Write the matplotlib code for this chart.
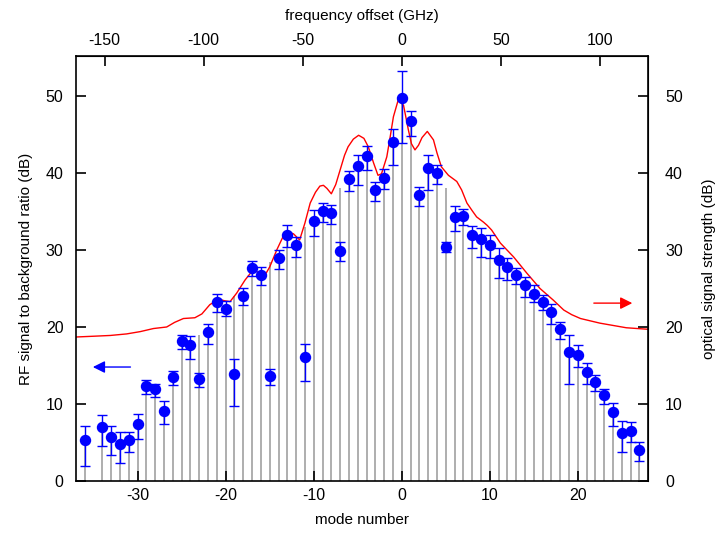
import matplotlib
matplotlib.use('Agg')
import matplotlib.pyplot as plt
import numpy as np

plt.rcParams['font.family'] = ['Liberation Sans', 'DejaVu Sans']
plt.rcParams['font.size'] = 11.5
plt.rcParams['axes.unicode_minus'] = False

# RF signal to background ratio per comb mode (dB), with error bar limits
modes = [-36, -34, -33, -32, -31, -30, -29, -28, -27, -26, -25, -24, -23, -22, -21, -20,
         -19, -18, -17, -16, -15, -14, -13, -12, -11, -10, -9, -8, -7, -6, -5, -4, -3, -2,
         -1, 0, 1, 2, 3, 4, 5, 6, 7, 8, 9, 10, 11, 12, 13, 14, 15, 16, 17, 18, 19, 20, 21,
         22, 23, 24, 25, 26, 27]
rf_ratio = [5.3, 7.0, 5.7, 4.8, 5.3, 7.4, 12.3, 11.9, 9.1, 13.5, 18.2, 17.6, 13.2, 19.3, 23.3, 22.4,
            13.9, 24.0, 27.7, 26.8, 13.6, 29.0, 32.0, 30.6, 16.1, 33.8, 35.0, 34.8, 29.9, 39.2, 40.9, 42.2, 37.8, 39.4,
            44.0, 49.8, 46.8, 37.1, 40.7, 40.0, 30.4, 34.3, 34.4, 31.9, 31.4, 30.7, 28.7, 27.8, 26.7, 25.4, 24.3, 23.2, 21.9, 19.7, 16.8, 16.4, 14.2,
            12.9, 11.2, 8.9, 6.2, 6.5, 4.0]
rf_hi = [7.2, 8.6, 7.2, 6.3, 6.4, 8.7, 13.1, 12.6, 10.4, 14.3, 19.0, 18.8, 14.0, 20.4, 24.3, 23.4,
         15.9, 25.0, 28.6, 27.8, 14.6, 30.0, 33.2, 31.7, 17.8, 35.2, 36.1, 35.8, 31.1, 40.3, 42.4, 43.5, 38.8, 40.5,
         45.7, 53.3, 48.0, 38.2, 42.3, 41.0, 31.0, 35.7, 35.3, 33.1, 32.9, 31.9, 30.3, 28.9, 27.6, 26.5, 25.4, 24.1, 23.0, 20.6, 19.0, 17.6, 15.3,
         13.8, 12.0, 10.1, 7.8, 7.6, 5.1]
rf_lo = [1.9, 4.5, 3.4, 2.3, 3.7, 5.4, 11.3, 10.9, 7.4, 12.5, 17.1, 15.8, 12.2, 17.8, 21.9, 21.4,
         9.7, 22.9, 26.6, 25.5, 12.5, 27.5, 30.4, 29.1, 13.0, 31.8, 33.7, 33.4, 28.6, 37.6, 38.5, 40.4, 36.4, 37.9,
         41.0, 43.9, 44.8, 35.7, 37.8, 38.6, 29.7, 32.5, 33.2, 30.3, 29.1, 29.0, 26.3, 26.1, 25.6, 23.9, 23.2, 22.2, 20.4, 18.5, 12.6, 14.8, 12.6,
         11.7, 10.0, 7.2, 3.7, 5.1, 2.6]

# heights of the grey comb lines
line_height = [5.3, 7.0, 5.7, 4.8, 5.3, 7.4, 12.3, 11.9, 9.1, 13.5, 18.2, 17.6, 19.0, 19.3, 23.3, 22.4,
               24.0, 24.0, 27.7, 26.8, 28.5, 29.0, 32.0, 30.6, 33.0, 33.8, 35.0, 34.8, 38.0, 39.2, 40.9, 42.2, 37.8, 39.4,
               44.0, 49.8, 46.8, 37.1, 40.7, 40.0, 38.0, 34.3, 34.4, 31.9, 31.4, 30.7, 28.7, 27.8, 26.7, 25.4, 24.3, 23.2, 21.9, 19.7, 16.8, 16.4, 14.2,
               12.9, 11.2, 8.9, 6.2, 6.5, 4.0]

# optical spectrum envelope (dB) vs mode number
opt_mode = [-37.0, -35.0, -33.1, -31.25, -29.7, -28.2, -26.7, -25.8, -24.8, -23.5, -22.7, -21.8,
            -20.8, -20.1, -19.5, -18.75, -17.8, -16.9, -16.1, -15.65, -15.0, -14.2, -13.5, -12.9,
            -12.3, -11.6, -11.0, -10.4, -9.8, -9.3, -8.9, -8.5, -8.0, -7.5, -7.0, -6.5, -6.1, -5.5,
            -4.9, -4.3, -3.8, -3.2, -2.7, -2.3, -1.7, -1.3, -0.95, -0.4, 0.2, 0.75, 1.1, 1.5, 1.9,
            2.3, 2.9, 3.6, 4.0, 4.5, 5.3, 6.25, 6.8, 7.4, 8.0, 8.5, 9.3, 9.7, 10.2, 11.2, 12.7,
            14.2, 15.7, 17.2, 18.4, 19.3, 20.3, 22.5, 25.5, 28.0]
opt_db = [18.7, 18.8, 18.9, 19.1, 19.4, 19.8, 20.0, 20.6, 21.1, 21.2, 21.7, 22.9,
          23.6, 23.4, 23.3, 24.4, 26.1, 27.4, 27.0, 26.5, 27.8, 30.0, 31.7, 32.3,
          32.1, 31.3, 33.5, 36.1, 37.5, 38.3, 38.4, 38.0, 37.3, 38.5, 40.4, 42.3, 43.4, 44.4,
          44.9, 44.5, 43.4, 41.3, 39.7, 39.9, 42.1, 44.8, 47.3, 49.5, 48.8, 45.6, 43.8, 43.0, 43.6,
          44.6, 45.4, 44.3, 42.6, 40.8, 39.7, 38.9, 37.8, 36.1, 35.1, 34.3, 33.6, 33.2, 32.6, 30.9, 29.1,
          27.0, 25.0, 23.5, 22.2, 21.6, 21.1, 20.5, 19.9, 19.7]

ghz_per_mode = 40.0 / 9.0

fig = plt.figure(figsize=(7.15, 5.33), dpi=100)
ax = fig.add_axes([0.1063, 0.0976, 0.8004, 0.7974])

ax.vlines(modes, 0, line_height, color='#a8a8a8', lw=1.3, zorder=1)
ax.plot(opt_mode, opt_db, color='red', lw=1.0, zorder=2)
ax.errorbar(modes, rf_ratio,
            yerr=[np.array(rf_ratio) - np.array(rf_lo), np.array(rf_hi) - np.array(rf_ratio)],
            fmt='o', color='blue', ms=7.2, elinewidth=1.0, capsize=3.8, capthick=1.0, zorder=3)

# direction arrows
ax.annotate('', xy=(-35.4, 14.8), xytext=(-30.5, 14.8),
            arrowprops=dict(arrowstyle='-|>', color='blue', lw=1.0, mutation_scale=18))
ax.annotate('', xy=(26.5, 23.1), xytext=(21.5, 23.1),
            arrowprops=dict(arrowstyle='-|>', color='red', lw=1.0, mutation_scale=18))

ax.set_xlim(-37, 28)
ax.set_ylim(0, 55.2)
ax.set_xticks([-30, -20, -10, 0, 10, 20])
ax.set_yticks([0, 10, 20, 30, 40, 50])
ax.tick_params(direction='in', length=7, width=1.2, top=False, right=False)
ax.tick_params(axis='x', pad=5)
ax.tick_params(axis='y', pad=9)
ax.set_xlabel('mode number', fontsize=11, labelpad=7)
ax.set_ylabel('RF signal to background ratio (dB)', fontsize=11, labelpad=9)
for s in ax.spines.values():
    s.set_linewidth(1.2)

top = ax.secondary_xaxis('top', functions=(lambda m: m * ghz_per_mode, lambda f: f / ghz_per_mode))
top.set_xticks([-150, -100, -50, 0, 50, 100])
top.tick_params(direction='in', length=7, width=1.2, pad=6)
top.set_xlabel('frequency offset (GHz)', fontsize=11, labelpad=9)

right = ax.secondary_yaxis('right')
right.set_yticks([0, 10, 20, 30, 40, 50])
right.tick_params(direction='in', length=7, width=1.2, pad=12)
right.set_ylabel('optical signal strength (dB)', fontsize=11, labelpad=14)

fig.savefig('out.png', dpi=100)
